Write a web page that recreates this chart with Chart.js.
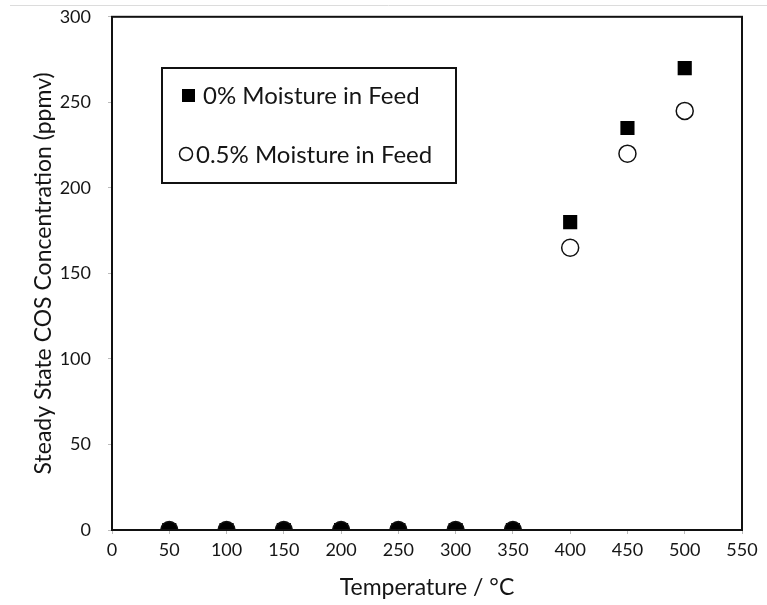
<!DOCTYPE html>
<html>
<head>
<meta charset="utf-8">
<script src="https://cdn.jsdelivr.net/npm/chart.js@4/dist/chart.umd.min.js"></script>
<style>
  html, body { margin: 0; padding: 0; background: #fff; overflow: hidden; }
  #wrap { position: relative; width: 767px; height: 605px; overflow: hidden; }
  /* canvas is 11px taller and lifted by 11px: Chart.js keeps ~28px above the plot, the figure has 17 */
  #chart { position: absolute; left: 0; top: -11px; }
</style>
</head>
<body>
<div id="wrap"><canvas id="chart" width="767" height="616"></canvas></div>
<script>
// values
const temps = [50, 100, 150, 200, 250, 300, 350, 400, 450, 500];
const dryCOS = [0, 0, 0, 0, 0, 0, 0, 180, 235, 270];
const wetCOS = [0, 0, 0, 0, 0, 0, 0, 165, 220, 245];
const seriesNames = ['0% Moisture in Feed', '0.5% Moisture in Feed'];
const xTitle = 'Temperature / °C';
const yTitle = 'Steady State COS Concentration (ppmv)';

const FONT = 'Lato, "Open Sans", sans-serif';
const INK = '#151515';
const OFF = 11; // canvas lift, see css

const toPoints = (ys) => temps.map((t, i) => ({ x: t, y: ys[i] }));

// box outline round the plot, plus the faint page rule at the top
const framePlugin = {
  id: 'frame',
  beforeDraw(chart) {
    const ctx = chart.ctx;
    ctx.save();
    ctx.strokeStyle = '#dcdcdc';
    ctx.lineWidth = 1;
    ctx.beginPath();
    ctx.moveTo(10, 5.5 + OFF);
    ctx.lineTo(767, 5.5 + OFF);
    ctx.stroke();
    ctx.restore();
  },
  afterDatasetsDraw(chart) {
    const a = chart.chartArea;
    const ctx = chart.ctx;
    ctx.save();
    ctx.strokeStyle = '#111';
    ctx.lineWidth = 2;
    ctx.strokeRect(a.left, a.top, a.right - a.left, a.bottom - a.top);
    ctx.restore();
  }
};

// legend box drawn inside the plot, as in the figure
const boxLegend = {
  id: 'boxLegend',
  afterDraw(chart) {
    const ctx = chart.ctx;
    const bx = 162, by = 68 + OFF, bw = 294, bh = 115;
    ctx.save();
    ctx.fillStyle = '#fff';
    ctx.fillRect(bx, by, bw, bh);
    ctx.strokeStyle = '#111';
    ctx.lineWidth = 2;
    ctx.strokeRect(bx, by, bw, bh);
    ctx.font = '24px ' + FONT;
    ctx.textBaseline = 'middle';
    chart.data.datasets.forEach((ds, i) => {
      const cy = by + 27 + i * 59;
      ctx.lineWidth = 1.5;
      if (ds.pointStyle === 'rect') {
        ctx.fillStyle = '#000';
        ctx.fillRect(182, cy - 6, 13, 13);
      } else {
        ctx.beginPath();
        ctx.arc(186, cy, 6.5, 0, Math.PI * 2);
        ctx.fillStyle = '#fff';
        ctx.fill();
        ctx.strokeStyle = '#111';
        ctx.stroke();
      }
      ctx.fillStyle = INK;
      ctx.fillText(ds.label, i === 0 ? 203 : 196, cy + 1);
    });
    ctx.restore();
  }
};

new Chart(document.getElementById('chart'), {
  type: 'scatter',
  data: {
    datasets: [
      {
        label: seriesNames[0],
        data: toPoints(dryCOS),
        pointStyle: 'rect',
        pointRadius: 10,
        pointBackgroundColor: '#000',
        pointBorderColor: '#000',
        pointBorderWidth: 0,
        order: 2
      },
      {
        label: seriesNames[1],
        data: toPoints(wetCOS),
        pointStyle: 'circle',
        pointRadius: 8.5,
        pointBackgroundColor: wetCOS.map(v => v === 0 ? '#000' : '#fff'),
        pointBorderColor: '#111',
        pointBorderWidth: 1.5,
        order: 1
      }
    ]
  },
  options: {
    responsive: false,
    animation: false,
    layout: { autoPadding: false, padding: { top: 6.2, right: 25, left: 0, bottom: 0 } },
    plugins: {
      legend: { display: false },
      tooltip: { enabled: false }
    },
    scales: {
      x: {
        type: 'linear',
        min: 0,
        max: 550,
        ticks: { stepSize: 50, color: INK, font: { family: FONT, size: 18 }, padding: 5 },
        grid: { drawOnChartArea: false, tickLength: 4, color: '#bbb' },
        border: { display: true, color: '#111', width: 2 },
        title: { display: true, text: xTitle, color: INK, font: { family: FONT, size: 23 }, padding: { top: 4 } },
        afterFit(scale) { scale.height = 75; }
      },
      y: {
        type: 'linear',
        min: 0,
        max: 300,
        ticks: { stepSize: 50, color: INK, font: { family: FONT, size: 18 }, padding: 17 },
        grid: { drawOnChartArea: false, tickLength: 4, color: '#bbb' },
        border: { display: true, color: '#111', width: 2 },
        title: { display: true, text: yTitle, color: INK, font: { family: FONT, size: 23 }, padding: { top: 30, bottom: 0 } },
        afterFit(scale) { scale.width = 112; }
      }
    }
  },
  plugins: [framePlugin, boxLegend]
});
</script>
</body>
</html>
